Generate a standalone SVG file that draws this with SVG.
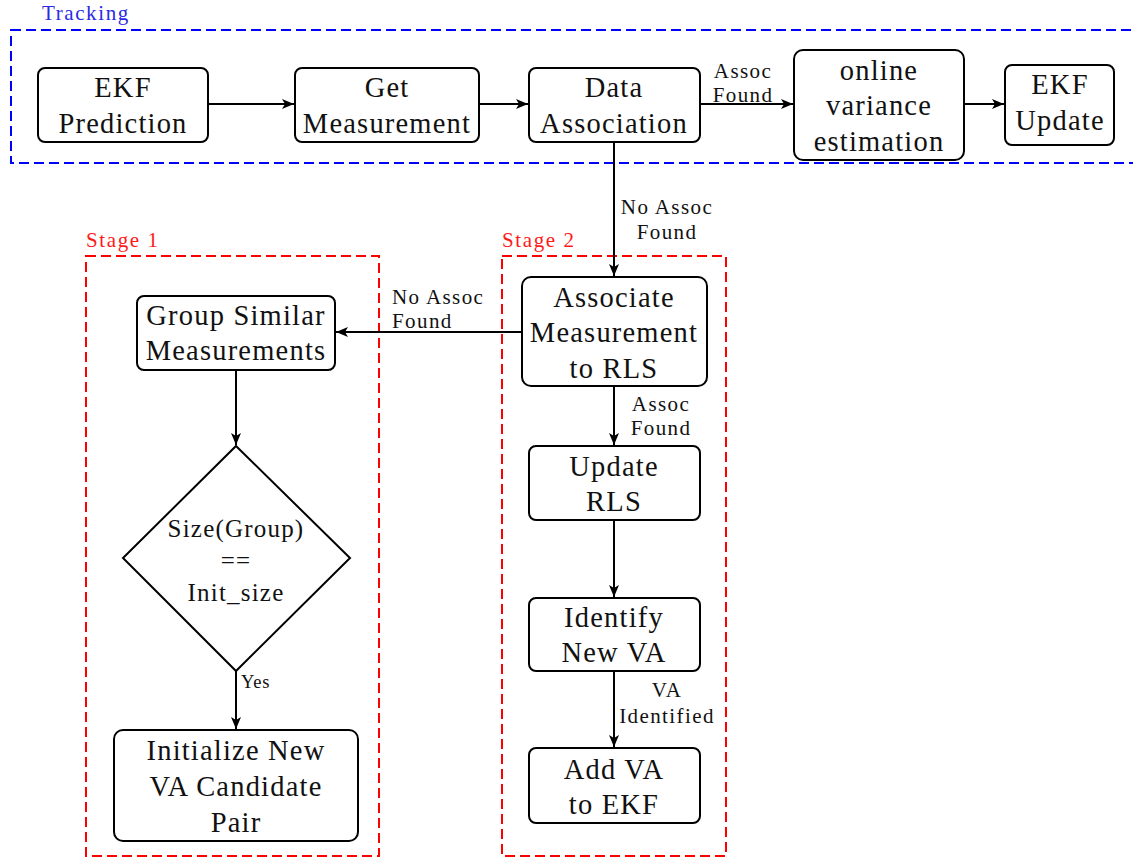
<svg xmlns="http://www.w3.org/2000/svg" width="1133" height="859" viewBox="0 0 1133 859">
<style>
.node{fill:#fff;stroke:#000;stroke-width:2}
.t{font-family:'Liberation Serif','DejaVu Serif',serif;font-size:28.5px;letter-spacing:1.2px;text-anchor:middle;fill:#111}
.d{font-family:'Liberation Serif','DejaVu Serif',serif;font-size:25px;letter-spacing:1.2px;text-anchor:middle;fill:#111}
.l{font-family:'Liberation Serif','DejaVu Serif',serif;font-size:21px;letter-spacing:1.4px;fill:#111}
.s{font-family:'Liberation Serif','DejaVu Serif',serif;font-size:21px;letter-spacing:1.6px}
.c{text-anchor:middle}
.edge{fill:none;stroke:#000;stroke-width:2}
.frame{fill:none;stroke-width:2;stroke-dasharray:10 5}
</style>
<defs>
<marker id="arr" markerUnits="userSpaceOnUse" markerWidth="14" markerHeight="12" viewBox="0 0 14 12" refX="12" refY="6" orient="auto">
<path d="M0,1 L12,6 L0,11 L3,6 Z" fill="#000"/>
</marker>
</defs>
<g id="frames">
<rect class="frame" x="11" y="30" width="1150" height="133" stroke="#0000ff"/>
<text x="42" y="20" class="s" fill="#2a2ae6">Tracking</text>
<rect class="frame" x="86" y="256" width="293" height="600" stroke="#ff0000"/>
<text x="86" y="247" class="s" fill="#ff1a1a">Stage 1</text>
<rect class="frame" x="502" y="256" width="224" height="600" stroke="#ff0000"/>
<text x="502" y="247" class="s" fill="#ff1a1a">Stage 2</text>
</g>
<g id="connectors">
<path class="edge" d="M208,104 H294" marker-end="url(#arr)"/>
<path class="edge" d="M479,104 H528" marker-end="url(#arr)"/>
<path class="edge" d="M700,104 H793" marker-end="url(#arr)"/>
<path class="edge" d="M964,104 H1004" marker-end="url(#arr)"/>
<path class="edge" d="M614,142 V276" marker-end="url(#arr)"/>
<path class="edge" d="M522,332 H336" marker-end="url(#arr)"/>
<path class="edge" d="M614,386 V445" marker-end="url(#arr)"/>
<path class="edge" d="M614,520 V597" marker-end="url(#arr)"/>
<path class="edge" d="M614,671 V747" marker-end="url(#arr)"/>
<path class="edge" d="M236,370 V445" marker-end="url(#arr)"/>
<path class="edge" d="M236,671 V729" marker-end="url(#arr)"/>
<text class="l c" x="743" y="78">Assoc</text>
<text class="l c" x="743" y="102">Found</text>
<text class="l c" x="667" y="214">No Assoc</text>
<text class="l c" x="667" y="239">Found</text>
<text class="l" x="392" y="304">No Assoc</text>
<text class="l" x="392" y="328">Found</text>
<text class="l c" x="661" y="411">Assoc</text>
<text class="l c" x="661" y="435">Found</text>
<text class="l c" x="667" y="697">VA</text>
<text class="l c" x="667" y="723">Identified</text>
<text class="l" x="241" y="688" style="font-size:18.5px;letter-spacing:0.8px">Yes</text>
</g>
<g id="ekf-prediction">
<rect class="node" x="38" y="68" width="170" height="74" rx="7"/>
<text class="t" x="123" y="97">EKF</text>
<text class="t" x="123" y="133">Prediction</text>
</g>
<g id="get-measurement">
<rect class="node" x="295" y="68" width="184" height="74" rx="7"/>
<text class="t" x="387" y="97">Get</text>
<text class="t" x="387" y="133">Measurement</text>
</g>
<g id="data-association">
<rect class="node" x="529" y="68" width="171" height="74" rx="7"/>
<text class="t" x="614" y="97">Data</text>
<text class="t" x="614" y="133">Association</text>
</g>
<g id="online-variance">
<rect class="node" x="794" y="50" width="170" height="110" rx="9"/>
<text class="t" x="879" y="80">online</text>
<text class="t" x="879" y="115">variance</text>
<text class="t" x="879" y="151">estimation</text>
</g>
<g id="ekf-update">
<rect class="node" x="1005" y="65" width="109" height="80" rx="7"/>
<text class="t" x="1060" y="94">EKF</text>
<text class="t" x="1060" y="130">Update</text>
</g>
<g id="associate-rls">
<rect class="node" x="522" y="277" width="185" height="109" rx="9"/>
<text class="t" x="614" y="307">Associate</text>
<text class="t" x="614" y="342">Measurement</text>
<text class="t" x="614" y="378">to RLS</text>
</g>
<g id="update-rls">
<rect class="node" x="529" y="446" width="171" height="74" rx="7"/>
<text class="t" x="614" y="476">Update</text>
<text class="t" x="614" y="511">RLS</text>
</g>
<g id="identify-va">
<rect class="node" x="529" y="598" width="171" height="73" rx="7"/>
<text class="t" x="614" y="627">Identify</text>
<text class="t" x="614" y="662">New VA</text>
</g>
<g id="add-va">
<rect class="node" x="529" y="748" width="171" height="75" rx="7"/>
<text class="t" x="614" y="779">Add VA</text>
<text class="t" x="614" y="814">to EKF</text>
</g>
<g id="group-similar">
<rect class="node" x="137" y="296" width="198" height="74" rx="7"/>
<text class="t" x="236" y="325">Group Similar</text>
<text class="t" x="236" y="360">Measurements</text>
</g>
<g id="size-check">
<path class="node" d="M236,446 L350,558 L236,671 L123,558 Z"/>
<text class="d" x="236" y="537">Size(Group)</text>
<text class="d" x="236" y="569">==</text>
<text class="d" x="236" y="601">Init_size</text>
</g>
<g id="init-candidate">
<rect class="node" x="114" y="730" width="244" height="111" rx="9"/>
<text class="t" x="236" y="760">Initialize New</text>
<text class="t" x="236" y="796">VA Candidate</text>
<text class="t" x="236" y="832">Pair</text>
</g>
</svg>
